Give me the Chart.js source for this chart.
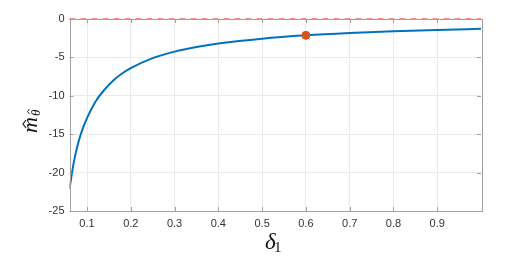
<!DOCTYPE html>
<html>
<head>
<meta charset="utf-8">
<script src="https://cdn.jsdelivr.net/npm/chart.js@4.4.1/dist/chart.umd.min.js"></script>
<style>
  html, body { margin: 0; padding: 0; background: #fff; }
  #c { display: block; }
</style>
</head>
<body>
<canvas id="c" width="532" height="257"></canvas>
<script>
// --- data ---
const deltaValues = [0.06, 0.07, 0.08, 0.09, 0.1, 0.12, 0.14, 0.16, 0.18, 0.2, 0.25, 0.3, 0.35, 0.4, 0.5, 0.6, 0.7, 0.8, 0.9, 1.0];
const mValues = [-22.1, -18.6, -16.1, -14.3, -12.9, -10.7, -9.2, -8.0, -7.1, -6.4, -5.1, -4.25, -3.65, -3.2, -2.56, -2.13, -1.83, -1.6, -1.42, -1.28];
const markerPoint = [{ x: 0.6, y: -2.13 }];
const zeroLine = [{ x: 0.06, y: 0 }, { x: 1.0, y: 0 }];
const xTickValues = [0.1, 0.2, 0.3, 0.4, 0.5, 0.6, 0.7, 0.8, 0.9];
const yTickValues = [-25, -20, -15, -10, -5, 0];

const curve = deltaValues.map((d, i) => ({ x: d, y: mValues[i] }));

// little circumflex accent, drawn as a chevron
const hat = (ctx, u, v, w, h) => {
  ctx.beginPath();
  ctx.moveTo(u - w / 2, v);
  ctx.lineTo(u, v - h);
  ctx.lineTo(u + w / 2, v);
  ctx.stroke();
};

// box, inward ticks and the math axis labels (MATLAB look)
const frame = {
  id: 'frame',
  afterDatasetsDraw(chart) {
    const { ctx, chartArea: a, scales } = chart;
    ctx.save();
    ctx.strokeStyle = '#a0a0a0';
    ctx.lineWidth = 1;
    ctx.beginPath();
    xTickValues.forEach(v => {
      const px = Math.round(scales.x.getPixelForValue(v)) + 0.5;
      ctx.moveTo(px, a.bottom); ctx.lineTo(px, a.bottom - 4);
      ctx.moveTo(px, a.top); ctx.lineTo(px, a.top + 4);
    });
    yTickValues.forEach(v => {
      const py = Math.round(scales.y.getPixelForValue(v)) + 0.5;
      ctx.moveTo(a.left, py); ctx.lineTo(a.left + 4, py);
      ctx.moveTo(a.right, py); ctx.lineTo(a.right - 4, py);
    });
    ctx.stroke();
    ctx.strokeRect(Math.round(a.left) + 0.5, Math.round(a.top) + 0.5,
      Math.round(a.right - a.left), Math.round(a.bottom - a.top));
    ctx.restore();
  },
  afterDraw(chart) {
    const { ctx } = chart;
    ctx.save();
    ctx.fillStyle = '#111';
    ctx.strokeStyle = '#111';
    ctx.textBaseline = 'alphabetic';
    // x label: delta_1
    ctx.font = 'italic 23px "Liberation Serif"';
    ctx.fillText('δ', 265, 249);
    ctx.font = '15px "Liberation Serif"';
    ctx.fillText('1', 274, 252);
    // y label: m-hat with theta-hat subscript, rotated
    ctx.translate(37, 133);
    ctx.rotate(-Math.PI / 2);
    ctx.font = 'italic 22px "Liberation Serif"';
    ctx.fillText('m', 0, 0);
    ctx.lineWidth = 1.1;
    hat(ctx, 9, -11, 8, 3);
    ctx.font = 'italic 13px "Liberation Serif"';
    ctx.fillText('θ', 17, 3);
    ctx.lineWidth = 0.9;
    hat(ctx, 21.5, -7.5, 5, 2);
    ctx.restore();
  }
};

new Chart(document.getElementById('c'), {
  type: 'scatter',
  data: {
    datasets: [
      {
        data: zeroLine, showLine: true, borderColor: '#ff6b6b', borderWidth: 1.5,
        borderDash: [6, 5], pointRadius: 0, clip: false, order: 0
      },
      {
        data: markerPoint, pointRadius: 4, pointBackgroundColor: '#d95319',
        pointBorderColor: '#d95319', order: 1
      },
      {
        data: curve, showLine: true, borderColor: '#0072bd', borderWidth: 2,
        pointRadius: 0, cubicInterpolationMode: 'monotone', order: 2
      }
    ]
  },
  options: {
    responsive: false,
    animation: false,
    devicePixelRatio: 1,
    layout: { padding: { top: 19, right: 51, left: 0, bottom: 0 } },
    plugins: { legend: { display: false }, tooltip: { enabled: false } },
    scales: {
      x: {
        type: 'linear', min: 0.06, max: 1.0,
        afterBuildTicks: s => { s.ticks = xTickValues.map(v => ({ value: v })); },
        afterFit: s => { s.height = 46; },
        grid: { color: '#ebebeb', drawTicks: false },
        border: { display: false },
        ticks: { padding: 6, color: '#333', font: { family: '"Liberation Sans"', size: 11 },
          maxRotation: 0, callback: v => String(Math.round(v * 10) / 10) }
      },
      y: {
        type: 'linear', min: -25, max: 0,
        afterBuildTicks: s => { s.ticks = yTickValues.map(v => ({ value: v })); },
        afterFit: s => { s.width = 69.5; },
        grid: { color: '#ebebeb', drawTicks: false },
        border: { display: false },
        ticks: { padding: 5, color: '#333', font: { family: '"Liberation Sans"', size: 11 } }
      }
    }
  },
  plugins: [frame]
});
</script>
</body>
</html>
